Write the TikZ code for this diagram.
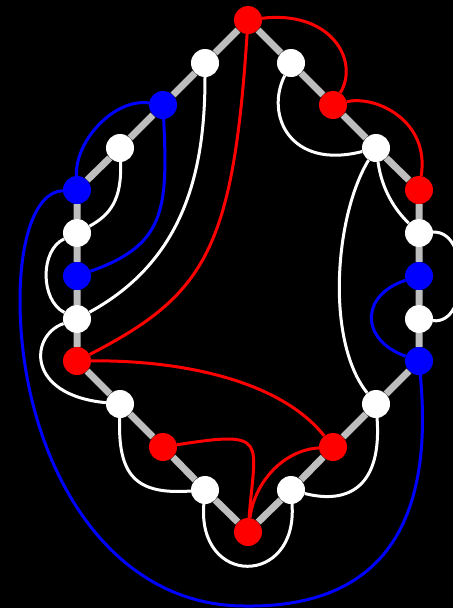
\documentclass[tikz,border=0pt]{standalone}
\begin{document}
\begin{tikzpicture}[x=1pt,y=-1pt,
  vtx/.style={circle,minimum size=28pt,inner sep=0pt,draw=none},
  wv/.style={vtx,fill=white},
  rv/.style={vtx,fill=red},
  bv/.style={vtx,fill=blue},
  rim/.style={line width=7pt,draw={rgb,255:red,190;green,190;blue,190}},
  wl/.style={line width=3pt,white},
  rl/.style={line width=3pt,red},
  bl/.style={line width=3pt,blue}]
\useasboundingbox (0,0) rectangle (453,608);
\fill[black] (0,0) rectangle (453,608);

% vertices
\node[rv] (T) at (248,20) {};
\node[wv] (L1) at (205,63) {};
\node[bv] (L2) at (163,105) {};
\node[wv] (L3) at (120,148) {};
\node[bv] (L4) at (77,190) {};
\node[wv] (R1) at (291,63) {};
\node[rv] (R2) at (333,105) {};
\node[wv] (R3) at (376,148) {};
\node[rv] (R4) at (419,190) {};
\node[wv] (LV1) at (77,233) {};
\node[bv] (LV2) at (77,276) {};
\node[wv] (LV3) at (77,319) {};
\node[rv] (LV4) at (77,361) {};
\node[wv] (RV1) at (419,233) {};
\node[bv] (RV2) at (419,276) {};
\node[wv] (RV3) at (419,319) {};
\node[bv] (RV4) at (419,361) {};
\node[wv] (BL1) at (120,404) {};
\node[rv] (BL2) at (163,447) {};
\node[wv] (BL3) at (205,490) {};
\node[rv] (B) at (248,532) {};
\node[wv] (BR1) at (376,404) {};
\node[rv] (BR2) at (333,447) {};
\node[wv] (BR3) at (291,490) {};

% outer rim
\draw[rim] (T)--(L1) (L1)--(L2) (L2)--(L3) (L3)--(L4) (L4)--(LV1) (LV1)--(LV2)
  (LV2)--(LV3) (LV3)--(LV4) (LV4)--(BL1) (BL1)--(BL2) (BL2)--(BL3) (BL3)--(B)
  (T)--(R1) (R1)--(R2) (R2)--(R3) (R3)--(R4) (R4)--(RV1) (RV1)--(RV2)
  (RV2)--(RV3) (RV3)--(RV4) (RV4)--(BR1) (BR1)--(BR2) (BR2)--(BR3) (BR3)--(B);

% red chords
\draw[rl] (T) .. controls (330,10) and (360,60) .. (R2);
\draw[rl] (R2) .. controls (375,95) and (430,120) .. (R4);
\draw[rl] (T) .. controls (233,250) and (205,295) .. (LV4);
\draw[rl] (LV4) .. controls (180,360) and (280,380) .. (BR2);
\draw[rl] (BL2) .. controls (270,430) and (255,440) .. (B);
\draw[rl] (BR2) .. controls (285,450) and (255,480) .. (B);

% blue chords
\draw[bl] (L2) .. controls (115,98) and (75,140) .. (L4);
\draw[bl] (L2) .. controls (168,210) and (165,245) .. (LV2);
\draw[bl] (L4) .. controls (35,192) and (20,240) .. (20,300)
  .. controls (20,450) and (100,606) .. (245,606)
  .. controls (400,608) and (432,500) .. (RV4);
\draw[bl] (RV2) .. controls (360,295) and (360,340) .. (RV4);

% white chords
\draw[wl] (L1) .. controls (205,170) and (185,260) .. (LV3);
\draw[wl] (L3) .. controls (122,200) and (110,215) .. (LV1);
\draw[wl] (LV1) .. controls (40,250) and (40,300) .. (LV3);
\draw[wl] (LV3) .. controls (30,335) and (25,395) .. (BL1);
\draw[wl] (R1) .. controls (265,115) and (290,170) .. (R3);
\draw[wl] (R3) .. controls (335,215) and (325,340) .. (BR1);
\draw[wl] (R3) .. controls (382,190) and (395,210) .. (RV1);
\draw[wl] (RV1) .. controls (470,230) and (470,325) .. (RV3);
\draw[wl] (BL1) .. controls (118,475) and (135,495) .. (BL3);
\draw[wl] (BL3) .. controls (197,587) and (298,587) .. (BR3);
\draw[wl] (BR3) .. controls (350,505) and (382,485) .. (BR1);
\end{tikzpicture}
\end{document}
